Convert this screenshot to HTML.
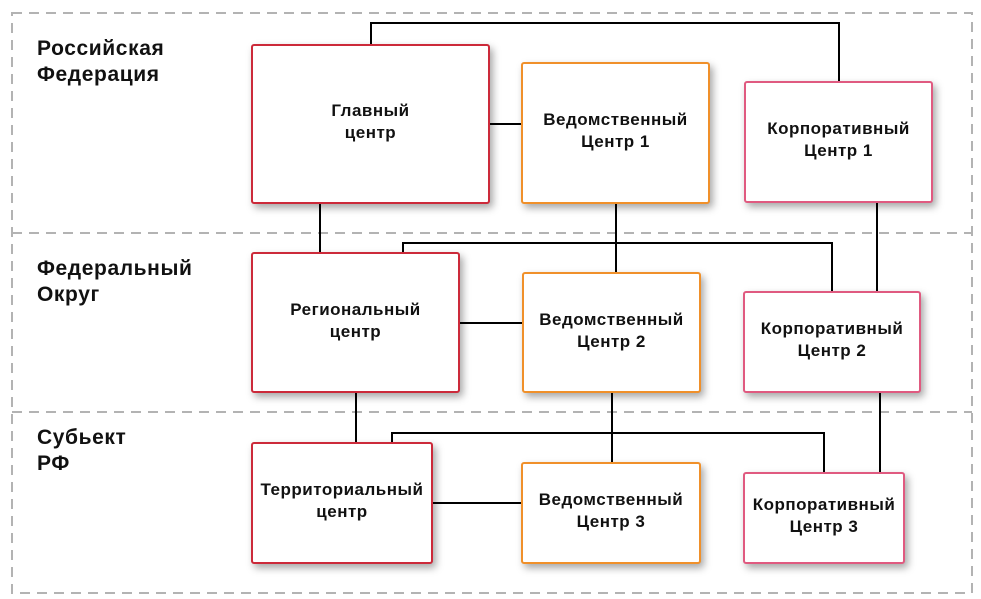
<!DOCTYPE html>
<html><head><meta charset="utf-8"><style>
html,body{margin:0;padding:0;background:#fff;}
body{width:981px;height:599px;position:relative;overflow:hidden;font-family:"Liberation Sans",Arial,sans-serif;}
.b{position:absolute;box-sizing:border-box;background:#fff;border:2px solid;border-radius:3px;box-shadow:3px 4px 8px rgba(0,0,0,0.35);display:flex;align-items:center;justify-content:center;text-align:center;font-weight:bold;font-size:17px;letter-spacing:0.5px;line-height:22px;color:#111;padding-bottom:4px;white-space:nowrap;}
.r{border-color:#cc2a3a;}
.o{border-color:#f0902a;}
.p{border-color:#e05a80;}
.l{position:absolute;left:37px;font-weight:bold;font-size:21px;letter-spacing:0.6px;line-height:26px;color:#111;}
svg{position:absolute;left:0;top:0;}
</style></head><body>
<svg width="981" height="599">
<g fill="none" stroke="#b3b3b3" stroke-width="2" stroke-dasharray="10,7">
<rect x="12" y="13" width="960" height="580"/>
<line x1="12" y1="233" x2="972" y2="233"/>
<line x1="12" y1="412" x2="972" y2="412"/>
</g>
<g fill="none" stroke="#000" stroke-width="2">
<polyline points="371,45 371,23 839,23 839,82"/>
<line x1="489" y1="124" x2="522" y2="124"/>
<line x1="320" y1="203" x2="320" y2="253"/>
<line x1="616" y1="203" x2="616" y2="273"/>
<line x1="877" y1="202" x2="877" y2="292"/>
<polyline points="403,253 403,243 832,243 832,292"/>
<line x1="459" y1="323" x2="523" y2="323"/>
<line x1="356" y1="392" x2="356" y2="443"/>
<line x1="612" y1="392" x2="612" y2="463"/>
<line x1="880" y1="392" x2="880" y2="473"/>
<polyline points="392,443 392,433 824,433 824,476"/>
<line x1="432" y1="503" x2="522" y2="503"/>
</g>
</svg>
<div class="l" style="top:36px">Российская<br>Федерация</div>
<div class="l" style="top:256px">Федеральный<br>Округ</div>
<div class="l" style="top:425px">Субьект<br>РФ</div>

<div class="b r" style="left:251px;top:44px;width:239px;height:160px">Главный<br>центр</div>
<div class="b o" style="left:521px;top:62px;width:189px;height:142px">Ведомственный<br>Центр 1</div>
<div class="b p" style="left:744px;top:81px;width:189px;height:122px">Корпоративный<br>Центр 1</div>

<div class="b r" style="left:251px;top:252px;width:209px;height:141px">Региональный<br>центр</div>
<div class="b o" style="left:522px;top:272px;width:179px;height:121px">Ведомственный<br>Центр 2</div>
<div class="b p" style="left:743px;top:291px;width:178px;height:102px">Корпоративный<br>Центр 2</div>

<div class="b r" style="left:251px;top:442px;width:182px;height:122px">Территориальный<br>центр</div>
<div class="b o" style="left:521px;top:462px;width:180px;height:102px">Ведомственный<br>Центр 3</div>
<div class="b p" style="left:743px;top:472px;width:162px;height:92px">Корпоративный<br>Центр 3</div>
</body></html>
